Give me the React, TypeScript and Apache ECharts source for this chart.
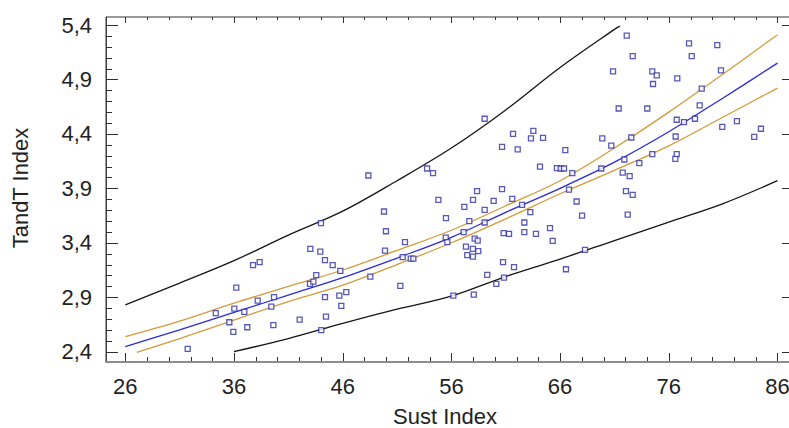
import React, { useEffect, useRef } from "react";
import * as echarts from "echarts";

// ---- scatter data (Sust Index vs TandT Index) ----
const sustIndex = [
  31.74, 34.32, 35.57, 35.94, 36.03, 36.21, 36.95, 37.22, 37.75, 38.36,
  38.18, 39.43, 39.68, 39.62, 42.04, 43.02, 42.99, 43.3, 43.57, 43.94,
  44.0, 44.03, 44.37, 44.37, 44.46, 45.08, 45.69, 45.78, 45.87, 46.33,
  48.54, 49.8, 49.98, 49.89, 51.3, 48.36,
  72.13, 77.86, 80.46, 72.68, 78.11, 70.87, 74.48, 74.89, 76.78, 80.8,
  74.55, 79.03, 71.39, 74.02, 78.84, 59.06, 76.73, 77.4, 78.41, 80.92,
  82.27, 84.48, 83.86, 61.67, 63.54, 63.32, 64.43, 60.66, 62.1, 66.48,
  69.88, 70.71, 72.55, 76.63, 76.73, 76.6, 74.48, 71.91, 73.29, 53.76,
  54.31, 64.15, 65.71, 66.05, 66.36, 67.12, 69.79, 71.76, 72.4, 72.06,
  72.68, 66.82, 54.8, 58.36, 57.99, 57.19, 59.89, 60.66, 61.6, 59.06,
  62.5, 67.52, 63.26, 68.02, 72.22, 55.5,
  57.65, 59.06, 51.73, 55.48, 55.63, 57.13, 58.14, 58.42, 62.71, 60.81,
  61.3, 62.71, 63.78, 65.07, 65.32, 57.34, 57.98, 58.47, 57.46, 57.98,
  51.52, 52.26, 52.5, 60.75, 61.76, 68.29, 66.54, 59.3, 60.13, 60.84,
  56.18, 58.06,
];
const tandtIndex = [
  2.425, 2.753, 2.67, 2.581, 2.795, 2.988, 2.765, 2.624, 3.194, 3.222,
  2.869, 2.814, 2.9, 2.643, 2.694, 3.344, 3.022, 3.043, 3.102, 3.319,
  3.58, 2.597, 3.24, 2.9, 2.722, 3.194, 2.915, 3.142, 2.82, 2.946,
  3.089, 3.687, 3.506, 3.328, 3.004, 4.018,
  5.302, 5.231, 5.216, 5.115, 5.115, 4.974, 4.974, 4.937, 4.909, 4.983,
  4.858, 4.815, 4.633, 4.633, 4.661, 4.539, 4.53, 4.508, 4.539, 4.465,
  4.518, 4.447, 4.373, 4.401, 4.428, 4.358, 4.364, 4.281, 4.257, 4.251,
  4.358, 4.293, 4.367, 4.376, 4.214, 4.171, 4.214, 4.165, 4.132, 4.082,
  4.04, 4.1, 4.086, 4.082, 4.082, 4.04, 4.082, 4.045, 4.012, 3.874,
  3.84, 3.889, 3.794, 3.874, 3.794, 3.73, 3.785, 3.893, 3.803, 3.702,
  3.748, 3.779, 3.681, 3.65, 3.659, 3.626,
  3.598, 3.586, 3.406, 3.448, 3.406, 3.497, 3.439, 3.42, 3.586, 3.488,
  3.482, 3.497, 3.482, 3.534, 3.417, 3.365, 3.344, 3.323, 3.286, 3.273,
  3.268, 3.255, 3.255, 3.222, 3.176, 3.335, 3.157, 3.105, 3.022, 3.08,
  2.915, 2.924,
];

// ---- fitted curve and bands ----
const fitX = [26, 31, 36, 41, 46, 51, 56, 61, 66, 71, 76, 81, 86];
const fitY = [2.446, 2.6, 2.76, 2.92, 3.08, 3.26, 3.45, 3.68, 3.9, 4.14, 4.42, 4.73, 5.05];

const confUpperX = [26, 31, 36, 41, 46, 51, 56, 61, 66, 71, 76, 81, 86];
const confUpperY = [2.538, 2.68, 2.845, 3.0, 3.15, 3.33, 3.515, 3.74, 3.97, 4.27, 4.6, 4.95, 5.31];

const confLowerX = [27.05, 31, 36, 41, 46, 51, 56, 61, 66, 71, 76, 81, 86];
const confLowerY = [2.394, 2.52, 2.69, 2.86, 3.01, 3.2, 3.4, 3.62, 3.85, 4.065, 4.29, 4.555, 4.82];

const predUpperX = [26, 31, 36, 41, 46, 51, 56, 61, 66, 71, 71.5];
const predUpperY = [2.83, 3.03, 3.236, 3.47, 3.69, 3.97, 4.27, 4.62, 5.01, 5.36, 5.39];

const predLowerX = [36, 41, 46, 51, 56, 61, 66, 71, 76, 81, 86];
const predLowerY = [2.4, 2.52, 2.66, 2.79, 2.91, 3.09, 3.25, 3.42, 3.59, 3.76, 3.97];

// ---- axis ticks and labels ----
const xMajorTicks = [26, 36, 46, 56, 66, 76, 86];
const xMinorTicks = [26, 28, 30, 32, 34, 36, 38, 40, 42, 44, 46, 48, 50, 52, 54, 56, 58, 60, 62, 64, 66, 68, 70, 72, 74, 76, 78, 80, 82, 84, 86];
const yMajorTicks = [2.4, 2.9, 3.4, 3.9, 4.4, 4.9, 5.4];
const yMinorTicks = [2.4, 2.5, 2.6, 2.7, 2.8, 2.9, 3.0, 3.1, 3.2, 3.3, 3.4, 3.5, 3.6, 3.7, 3.8, 3.9, 4.0, 4.1, 4.2, 4.3, 4.4, 4.5, 4.6, 4.7, 4.8, 4.9, 5.0, 5.1, 5.2, 5.3, 5.4];
const xTickLabels = ["26", "36", "46", "56", "66", "76", "86"];
const yTickLabels = ["2,4", "2,9", "3,4", "3,9", "4,4", "4,9", "5,4"];

const X_MIN = 24.224;
const X_MAX = 87.335;
const Y_MIN = 2.305;
const Y_MAX = 5.4735;

const FONT = "'Liberation Sans', Arial, sans-serif";

function zip(xs: number[], ys: number[]) {
  return xs.map((x, i) => [x, ys[i]]);
}

export default function App() {
  const ref = useRef<HTMLDivElement>(null);

  useEffect(() => {
    if (!ref.current) return;
    const chart = echarts.init(ref.current, undefined, { renderer: "svg" });

    const lineSeries = (xs: number[], ys: number[], color: string, z: number) => ({
      type: "line",
      data: zip(xs, ys),
      showSymbol: false,
      smooth: 0.35,
      lineStyle: { color, width: 1.3 },
      itemStyle: { color },
      z,
    });

    chart.setOption({
      animation: false,
      backgroundColor: "#ffffff",
      grid: {
        left: 106,
        top: 17,
        width: 686,
        height: 345,
        containLabel: false,
        outerBoundsMode: "none",
        show: true,
        borderColor: "#333333",
        borderWidth: 1,
        backgroundColor: "#ffffff",
      },
      xAxis: {
        type: "value",
        min: X_MIN,
        max: X_MAX,
        splitLine: { show: false },
        axisLine: { show: true, onZero: false, lineStyle: { color: "#8c8c8c", width: 2 } },
        axisTick: { show: false },
        axisLabel: { show: false },
      },
      yAxis: {
        type: "value",
        min: Y_MIN,
        max: Y_MAX,
        splitLine: { show: false },
        axisLine: { show: true, onZero: false, lineStyle: { color: "#444444", width: 1 } },
        axisTick: { show: false },
        axisLabel: { show: false },
      },
      series: [
        lineSeries(predUpperX, predUpperY, "#151515", 2),
        lineSeries(predLowerX, predLowerY, "#151515", 2),
        lineSeries(confUpperX, confUpperY, "#d49a3a", 3),
        lineSeries(confLowerX, confLowerY, "#d49a3a", 3),
        lineSeries(fitX, fitY, "#2a2ad8", 4),
        {
          type: "scatter",
          data: zip(sustIndex, tandtIndex),
          symbol: "rect",
          symbolSize: 5,
          itemStyle: { color: "#ffffff", borderColor: "#2e2ea8", borderWidth: 1.3 },
          z: 5,
        },
      ],
    });

    // ticks and tick labels placed through the axis scales
    const px = (x: number, y: number) => chart.convertToPixel({ gridIndex: 0 }, [x, y]) as number[];
    const els: any[] = [];
    const tickStyle = { stroke: "#2f2f2f", lineWidth: 1 };
    xMinorTicks.forEach((v) => {
      const pb = px(v, Y_MIN);
      const pt = px(v, Y_MAX);
      const major = xMajorTicks.indexOf(v) >= 0;
      const x = Math.round(pb[0]) + 0.5;
      els.push({ type: "line", shape: { x1: x, y1: pb[1] - 1, x2: x, y2: pb[1] - 1 - (major ? 8 : 4) }, style: tickStyle });
      els.push({ type: "line", shape: { x1: x, y1: pt[1], x2: x, y2: pt[1] + (major ? 6 : 3) }, style: tickStyle });
    });
    yMinorTicks.forEach((v) => {
      const pl = px(X_MIN, v);
      const pr = px(X_MAX, v);
      const major = yMajorTicks.some((m) => Math.abs(m - v) < 1e-6);
      const y = Math.round(pl[1]) + 0.5;
      els.push({ type: "line", shape: { x1: pl[0], y1: y, x2: pl[0] + (major ? 12 : 6), y2: y }, style: tickStyle });
      if (major) els.push({ type: "line", shape: { x1: pr[0], y1: y, x2: pr[0] - 10, y2: y }, style: tickStyle });
    });
    xMajorTicks.forEach((v, i) => {
      const p = px(v, Y_MIN);
      els.push({
        type: "text",
        x: p[0],
        y: p[1] + 24,
        style: { text: xTickLabels[i], font: `22px ${FONT}`, fill: "#222", textAlign: "center", textVerticalAlign: "middle" },
      });
    });
    yMajorTicks.forEach((v, i) => {
      const p = px(X_MIN, v);
      els.push({
        type: "text",
        x: p[0] - 14,
        y: p[1],
        style: { text: yTickLabels[i], font: `22px ${FONT}`, fill: "#222", textAlign: "right", textVerticalAlign: "middle" },
      });
    });
    els.push({
      type: "text",
      x: 445,
      y: 416,
      style: { text: "Sust Index", font: `22px ${FONT}`, fill: "#222", textAlign: "center", textVerticalAlign: "middle" },
    });
    els.push({
      type: "text",
      x: 20,
      y: 188,
      rotation: Math.PI / 2,
      style: { text: "TandT Index", font: `22px ${FONT}`, fill: "#222", textAlign: "center", textVerticalAlign: "middle" },
    });

    chart.setOption({ graphic: els.map((el, i) => ({ id: "g" + i, z: 20, silent: true, ...el })) });

    return () => chart.dispose();
  }, []);

  return (
    <div
      ref={ref}
      style={{ position: "fixed", left: 0, top: 0, width: 789, height: 428, background: "#fff" }}
    />
  );
}
